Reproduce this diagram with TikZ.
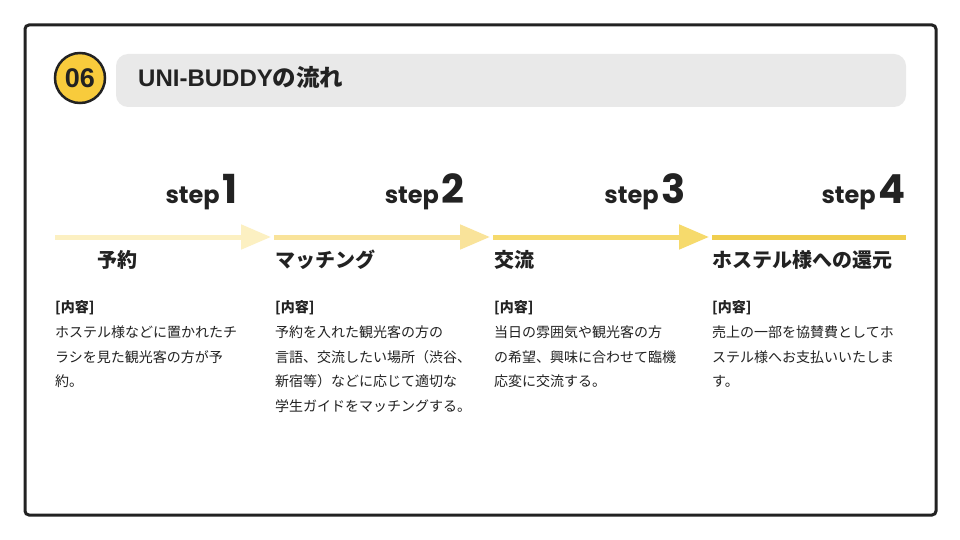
\documentclass[tikz,border=0pt]{standalone}
\usepackage{fontspec}
\setmainfont{Noto Sans CJK JP}
\newfontfamily\jpfont{Noto Sans CJK JP}
\newfontfamily\popfont{Poppins}
\newfontfamily\libfont{Liberation Sans}
\usetikzlibrary{arrows.meta}
\definecolor{frame}{HTML}{222222}
\definecolor{badge}{HTML}{F8CB3C}
\definecolor{titlebg}{HTML}{E9E9E9}
\definecolor{ya}{HTML}{FCF0C2}
\definecolor{yb}{HTML}{F9E39A}
\definecolor{yc}{HTML}{F6DA6C}
\definecolor{yd}{HTML}{F0CE4E}
\definecolor{txt}{HTML}{222222}
\tikzset{
  stepbox/.style={anchor=base east, inner sep=0pt, text=txt, font=\popfont\bfseries\fontsize{24}{24}\selectfont},
  headbox/.style={anchor=west, inner sep=0pt, text=txt, font=\jpfont\bfseries\fontsize{20}{22}\selectfont},
  tagbox/.style={anchor=west, inner sep=0pt, text=txt, font=\jpfont\bfseries\fontsize{14}{16}\selectfont},
  bodybox/.style={anchor=north west, inner sep=0pt, align=left, text=txt, font=\jpfont\fontsize{14}{24.7}\selectfont},
  flow/.style={line width=5pt, draw=#1},
  flowhead/.style={line width=5pt, draw=#1, -{Triangle[length=30pt, width=24pt, fill=#1]}},
}
\newcommand{\bignum}[1]{\hspace{3pt}{\fontsize{40}{40}\selectfont #1}}
\begin{document}
\begin{tikzpicture}[x=1pt, y=-1pt]
\useasboundingbox (0,0) rectangle (960,540);
\fill[white] (0,0) rectangle (960,540);
% frame
\draw[frame, line width=3pt, rounded corners=4pt] (25,25) rectangle (936,515);
% title bar
\fill[titlebg, rounded corners=12pt] (116,54) rectangle (906,107);
\node[anchor=west, inner sep=0pt, text=txt] (title) at (138,78)
  {{\libfont\bfseries\fontsize{24}{26}\selectfont UNI-BUDDY}{\jpfont\bfseries\fontsize{23.5}{26}\selectfont の流れ}};
% badge
\node[circle, draw=frame, line width=2.5pt, fill=badge, minimum size=50pt, inner sep=0pt,
  font=\libfont\bfseries\fontsize{27}{27}\selectfont, text=txt] (badge) at (80,78) {06};
% steps
\node[stepbox] (s1) at (238,204) {step\bignum{1}};
\node[stepbox] (s2) at (465,204) {step\bignum{2}};
\node[stepbox] (s3) at (686,204) {step\bignum{3}};
\node[stepbox] (s4) at (906,204) {step\bignum{4}};
% flow arrows
\coordinate (a0) at (55,237);
\coordinate (a1) at (271,237);
\coordinate (b0) at (274,237);
\coordinate (b1) at (490,237);
\coordinate (c0) at (493,237);
\coordinate (c1) at (709,237);
\coordinate (d0) at (712,237);
\coordinate (d1) at (906,237);
\draw[flowhead=ya] (a0) -- (a1);
\draw[flowhead=yb] (b0) -- (b1);
\draw[flowhead=yc] (c0) -- (c1);
\draw[flow=yd] (d0) -- (d1);
% headings
\node[headbox] (h1) at (97,260) {予約};
\node[headbox] (h2) at (275,260) {マッチング};
\node[headbox] (h3) at (494,260) {交流};
\node[headbox] (h4) at (712,260) {ホステル様への還元};
% tags
\node[tagbox] (t1) at (55,308) {[内容]};
\node[tagbox] (t2) at (275,308) {[内容]};
\node[tagbox] (t3) at (494,308) {[内容]};
\node[tagbox] (t4) at (712,308) {[内容]};
% bodies
\node[bodybox] (b1t) at (55,325.5) {ホステル様などに置かれたチ\\ラシを見た観光客の方が予\\約。};
\node[bodybox] (b2t) at (275,325.5) {予約を入れた観光客の方の\\言語、交流したい場所（渋谷、\\新宿等）などに応じて適切な\\学生ガイドをマッチングする。};
\node[bodybox] (b3t) at (494,325.5) {当日の雰囲気や観光客の方\\の希望、興味に合わせて臨機\\応変に交流する。};
\node[bodybox] (b4t) at (712,325.5) {売上の一部を協賛費としてホ\\ステル様へお支払いいたしま\\す。};
\end{tikzpicture}
\end{document}
